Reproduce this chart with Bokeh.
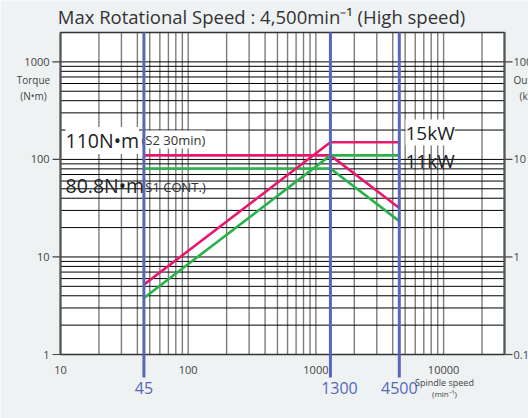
import math
from bokeh.plotting import figure
from bokeh.models import Range1d, Label
from bokeh.core.properties import value
from bokeh.embed import file_html
from bokeh.resources import INLINE

# ---- data ----
speed = [45, 1300, 4500]            # min^-1 (marked speeds)
speed_labels = ["45", "1300", "4500"]
torque_s2 = [110, 110, 31.8]        # N·m  (S2 30min)
torque_s1 = [80.8, 80.8, 23.3]      # N·m  (S1 CONT.)
power_s2 = [0.52, 15, 15]           # kW   (S2 30min)
power_s1 = [0.38, 11, 11]           # kW   (S1 CONT.)
x_ticks = [10, 100, 1000, 10000]
x_tick_labels = ["10", "100", "1000", "10000"]
y_ticks = [1, 10, 100, 1000]
y_tick_labels = ["1", "10", "100", "1000"]
kw_ticks = [0.1, 1, 10, 100]
kw_tick_labels = ["0.1", "1", "10", "100"]
x_limits = [10, 30000]
y_limits = [1, 2000]
kw_limits = [0.1, 200]

# ---- layout (pixels in the 528x418 canvas) ----
W, H = 528, 418
PL, PR, PT, PB = 60, 504, 32, 354   # plot box edges
speed_label_dx = [0, 9, 0]          # horizontal nudges of the blue labels

FONT = "Open Sans"
BG = "#eef2f3"
BLUE = "#5767bb"
PINK = "#e8186f"
GREEN = "#27b24a"
TXT = "#222222"
AX = "#444444"

def log_range(lim, p0, p1, total):
    a, b = math.log10(lim[0]), math.log10(lim[1])
    d = (p1 - p0) / (b - a)
    return Range1d(10 ** (a - p0 / d), 10 ** (b + (total - p1) / d))

xr = log_range(x_limits, PL, PR, W)
yr = log_range(y_limits, H - PB, H - PT, H)
kr = log_range(kw_limits, H - PB, H - PT, H)

p = figure(width=W, height=H, x_axis_type="log", y_axis_type="log",
           x_range=xr, y_range=yr, x_axis_location=None, y_axis_location=None,
           output_backend="svg", toolbar_location=None,
           min_border=0, min_border_left=0, min_border_right=0,
           min_border_top=0, min_border_bottom=0)
p.extra_y_ranges = {"power": kr}
p.background_fill_color = BG
p.border_fill_color = BG
p.outline_line_color = None
p.grid.visible = False

# plot box
p.quad(left=[x_limits[0]], right=[x_limits[1]], bottom=[y_limits[0]], top=[y_limits[1]],
       fill_color="white", line_color=None)

# grid lines
gx = [m * 10 ** e for e in range(1, 5) for m in range(1, 10)
      if x_limits[0] < m * 10 ** e < x_limits[1]]
gy = [m * 10 ** e for e in range(0, 4) for m in range(1, 10)
      if y_limits[0] < m * 10 ** e < y_limits[1]]
p.segment(x0=gx, y0=y_limits[0], x1=gx, y1=y_limits[1], line_color="#7d7d7d", line_width=1.4)
p.segment(x0=x_limits[0], y0=gy, x1=x_limits[1], y1=gy, line_color="black", line_width=1)

# curves
p.line(speed, torque_s2, line_color=PINK, line_width=2.6)
p.line(speed, torque_s1, line_color=GREEN, line_width=2.6)
p.line(speed, power_s2, line_color=PINK, line_width=2.6, y_range_name="power")
p.line(speed, power_s1, line_color=GREEN, line_width=2.6, y_range_name="power")

# frame
p.quad(left=[x_limits[0]], right=[x_limits[1]], bottom=[y_limits[0]], top=[y_limits[1]],
       fill_color=None, line_color="#333333", line_width=1.5)
p.segment(x0=[x_limits[0], x_limits[1]], y0=y_limits[0], x1=[x_limits[0], x_limits[1]],
          y1=y_limits[1], line_color="#555555", line_width=2)

# ticks
p.ray(x=x_limits[0], y=y_ticks, length=8, angle=math.pi, length_units="screen",
      line_color=AX, line_width=1.2)
p.ray(x=x_limits[1], y=kw_ticks, length=8, angle=0, length_units="screen",
      line_color=AX, line_width=1.2, y_range_name="power")

tick_style = dict(text_font=value(FONT), text_font_size="11px", text_color=AX,
                  text_baseline="middle")
p.text(x=x_limits[0], y=y_ticks, text=y_tick_labels, x_offset=-11, text_align="right", **tick_style)
p.text(x=x_limits[1], y=kw_ticks, text=kw_tick_labels, x_offset=9, text_align="left",
       y_range_name="power", **tick_style)
p.text(x=x_ticks, y=y_limits[0], text=x_tick_labels, y_offset=15, text_align="center", **tick_style)

def lab(text, x, y, size, color=TXT, align="left", bg=None):
    kw = dict(text=text, x=x, y=H - y, x_units="screen", y_units="screen",
              text_font=FONT, text_font_size=size, text_color=color,
              text_align=align, text_baseline="middle")
    if bg:
        kw["background_fill_color"] = bg
    p.add_layout(Label(**kw))

# title
lab("Max Rotational Speed : 4,500min\u207b\u00b9 (High speed)", 261, 16, "18.5px",
    color="#333333", align="center")
# in-plot annotations
lab("110N\u2022m", 65, 140, "19.5px", bg="white")
lab("(S2 30min)", 141, 139, "13px", color="#333333", bg="white")
lab("80.8N\u2022m", 65, 185, "19.5px")
lab("(S1 CONT.)", 141, 186, "13px", color="#333333")
lab("15kW", 405, 132, "19px", bg="white")
lab("11kW", 405, 160, "19px")
# axis titles
lab("Spindle speed", 444, 382, "9px", color=AX, align="center")
lab("(min\u207b\u00b9)", 444, 393, "8px", color=AX, align="center")
lab("Torque", 33, 79, "10px", color=AX, align="center")
lab("(N\u2022m)", 33, 95, "10px", color=AX, align="center")
lab("Output", 513, 79, "10px", color=AX)
lab("(kW)", 519, 95, "10px", color=AX)

# blue speed markers (over the labels)
blue_seg = p.segment(x0=speed, y0=y_limits[0], x1=speed, y1=y_limits[1],
                     line_color=BLUE, line_width=3)
blue_seg.level = "overlay"
blue_ray = p.ray(x=speed, y=y_limits[0], length=23, angle=-math.pi / 2,
                 length_units="screen", line_color=BLUE, line_width=3)
blue_ray.level = "overlay"
p.text(x=speed, y=y_limits[0], text=speed_labels, x_offset=speed_label_dx, y_offset=33,
       text_align="center", text_baseline="middle", text_font=value(FONT),
       text_font_size="16px", text_color=BLUE)

open("out.html", "w").write(file_html(p, INLINE))
